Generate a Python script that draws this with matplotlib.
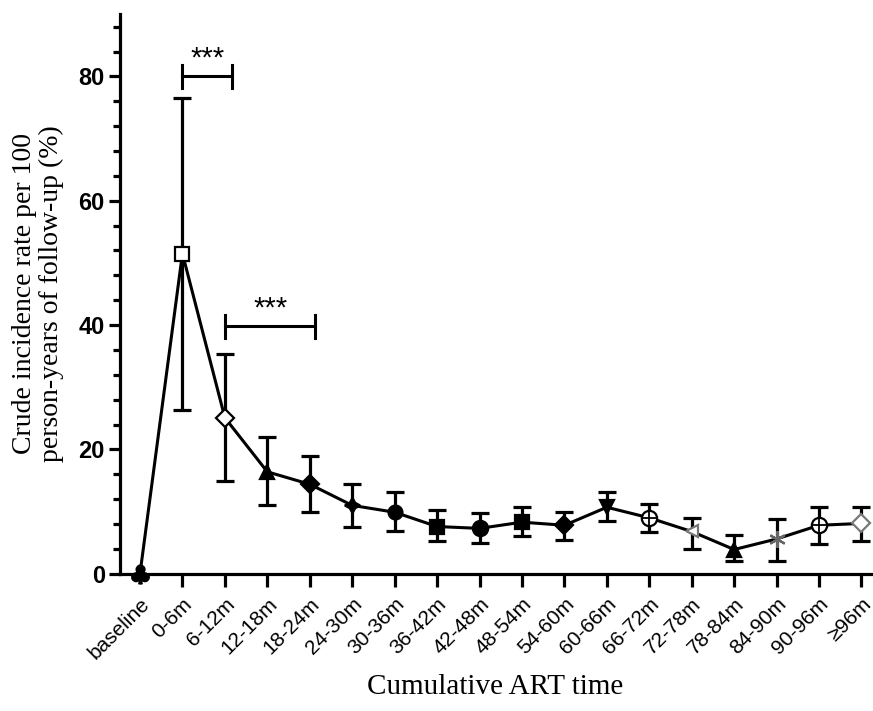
import matplotlib.pyplot as plt
from matplotlib.ticker import MultipleLocator

# categories of cumulative ART time
periods = ['baseline', '0-6m', '6-12m', '12-18m', '18-24m', '24-30m', '30-36m',
           '36-42m', '42-48m', '48-54m', '54-60m', '60-66m', '66-72m', '72-78m',
           '78-84m', '84-90m', '90-96m', '\u226596m']
# crude incidence rate and its confidence bounds
rate = [0, 51.5, 25.1, 16.4, 14.4, 11.0, 9.9, 7.6, 7.3, 8.3, 7.8, 10.7, 9.0, 6.8,
        3.9, 5.6, 7.8, 8.1]
lower = [0, 26.4, 15.0, 11.1, 9.9, 7.5, 6.9, 5.3, 4.9, 6.0, 5.5, 8.5, 6.7, 4.0,
         2.0, 2.1, 4.8, 5.2]
upper = [0, 76.6, 35.4, 22.0, 18.9, 14.5, 13.2, 10.2, 9.8, 10.8, 10.0, 13.1, 11.3,
         9.0, 6.2, 8.8, 10.8, 10.7]

# one marker for every period
markers = [r'$\clubsuit$', 's', 'D', '^', 'D', (4, 1, 0), 'o', 's', 'o', 's', 'D',
           'v', 'o', '<', '^', (6, 2, 0), 'o', 'D']
faces = ['k', 'w', 'w', 'k', 'k', 'k', 'k', 'k', 'k', 'k', 'k', 'k', 'w', 'w', 'k',
         '#666666', 'w', 'w']
edges = ['k', 'k', 'k', 'k', 'k', 'k', 'k', 'k', 'k', 'k', 'k', 'k', 'k', '#777777',
         'k', '#666666', 'k', '#777777']
sizes = [13, 10, 9, 10, 9, 11, 10, 10, 11, 10, 9, 10, 11, 9, 10, 12, 11, 9]
crossed = [12, 16]  # open circles with a plus inside

# significance brackets: (start, end, height)
brackets = [(1, 2.16, 80), (2, 4.13, 39.8)]

x = list(range(len(periods)))
yerr = [[r - l for r, l in zip(rate, lower)], [u - r for r, u in zip(rate, upper)]]

fig = plt.figure(figsize=(8.73, 7.11), dpi=100)
ax = fig.add_axes([0.1375, 0.193, 0.86, 0.787])

ax.plot(x, rate, color='k', lw=2.2, zorder=2, clip_on=False)
err_x = x[1:]
ax.errorbar(err_x, rate[1:], yerr=[yerr[0][1:], yerr[1][1:]], fmt='none',
            ecolor='k', elinewidth=2.3, capsize=6.5, capthick=2.3, zorder=3)

for i in x:
    ax.plot(x[i], rate[i], marker=markers[i], ms=sizes[i], mfc=faces[i],
            mec=edges[i], mew=1.6, ls='none', zorder=4, clip_on=False)
    if i in crossed:
        ax.plot(x[i], rate[i], marker='+', ms=sizes[i] - 1, mec='k', mew=1.3,
                ls='none', zorder=5)

for x0, x1, h in brackets:
    ax.plot([x0, x1], [h, h], color='k', lw=2.2)
    ax.plot([x0, x0], [h - 1.8, h + 1.8], color='k', lw=2.2)
    ax.plot([x1, x1], [h - 1.8, h + 1.8], color='k', lw=2.2)
    ax.text((x0 + x1) / 2, h + 0.6, '***', ha='center', va='bottom',
            fontsize=21, family='Liberation Sans')

ax.set_xlim(-0.47, 17.22)
ax.set_ylim(0, 90)
ax.yaxis.set_major_locator(MultipleLocator(20))
ax.yaxis.set_minor_locator(MultipleLocator(4))
ax.set_xticks(x)
ax.set_xticklabels(periods, rotation=45, ha='right', rotation_mode='anchor',
                   fontsize=15, family='Liberation Sans')
for lab in ax.get_yticklabels():
    lab.set_fontsize(17)
    lab.set_fontweight('bold')
    lab.set_family('Liberation Sans')

ax.spines['top'].set_visible(False)
ax.spines['right'].set_visible(False)
ax.spines['left'].set_linewidth(2.3)
ax.spines['bottom'].set_linewidth(2.3)
ax.tick_params(axis='y', which='major', length=8, width=2.3, pad=3)
ax.tick_params(axis='y', which='minor', length=5, width=2.3)
ax.tick_params(axis='x', which='major', length=9, width=2.3, pad=6)
ax.xaxis.get_major_ticks()[0].tick1line.set_visible(False)

ax.set_xlabel('Cumulative ART time', fontsize=21, family='Liberation Serif')
ax.xaxis.set_label_coords(0.5, -0.18)
ax.set_ylabel('Crude incidence rate per 100\nperson-years of follow-up (%)',
              fontsize=20, family='Liberation Serif', labelpad=10,
              linespacing=1.1)

plt.savefig('out.png', dpi=100)
